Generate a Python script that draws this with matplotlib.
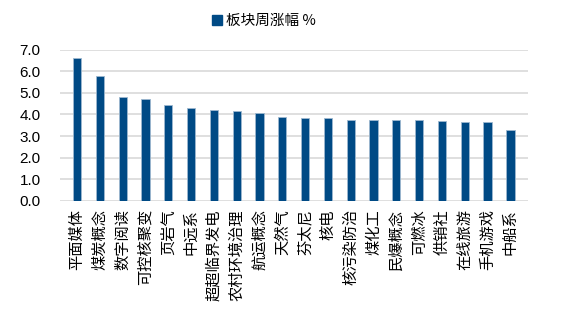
import matplotlib
matplotlib.use("Agg")
from matplotlib import pyplot as plt
from matplotlib.patches import Patch
import numpy as np

plt.rcParams['font.family'] = ['Noto Sans CJK SC', 'DejaVu Sans']

# 板块名称と周涨幅
sectors = ["平面媒体", "煤炭概念", "数字阅读", "可控核聚变", "页岩气", "中远系",
           "超超临界发电", "农村环境治理", "航运概念", "天然气", "芬太尼", "核电",
           "核污染防治", "煤化工", "民爆概念", "可燃冰", "供销社", "在线旅游",
           "手机游戏", "中船系"]
weekly_change = [6.60, 5.78, 4.83, 4.72, 4.45, 4.29, 4.21, 4.15, 4.07, 3.90,
                 3.83, 3.83, 3.75, 3.75, 3.72, 3.72, 3.69, 3.66, 3.66, 3.30]
yticks = [0.0, 1.0, 2.0, 3.0, 4.0, 5.0, 6.0, 7.0]

fig = plt.figure(figsize=(5.66, 3.27), dpi=100)
ax = fig.add_axes([0.106, 0.386, 0.826, 0.462])

x = np.arange(len(sectors))
ax.bar(x, weekly_change, width=0.36, color="#004a85", edgecolor="#9db8d0",
       linewidth=0.6, zorder=3)

ax.set_ylim(0, 7.0)
ax.set_xlim(-0.75, len(sectors) - 0.25)
ax.set_yticks(yticks)
ax.set_yticklabels([f"{v:.1f}" for v in yticks], fontsize=11,
                   family=["Liberation Sans", "DejaVu Sans"])
ax.tick_params(axis="y", length=0, pad=14)
ax.yaxis.grid(True, color="#d9d9d9", linewidth=1.2, zorder=0)
ax.set_xticks(x)
ax.set_xticklabels(sectors, rotation=90, fontsize=11, va="top", ha="center")
ax.tick_params(axis="x", length=0, pad=6)
for s in ax.spines.values():
    s.set_visible(False)

# 凡例
fig.legend(handles=[Patch(color="#004a85", label="板块周涨幅 %")],
           loc="center", bbox_to_anchor=(0.466, 0.935), frameon=False,
           fontsize=10.5, handlelength=0.7, handleheight=0.7, handletextpad=0.3)

plt.savefig("out.png", dpi=100)
